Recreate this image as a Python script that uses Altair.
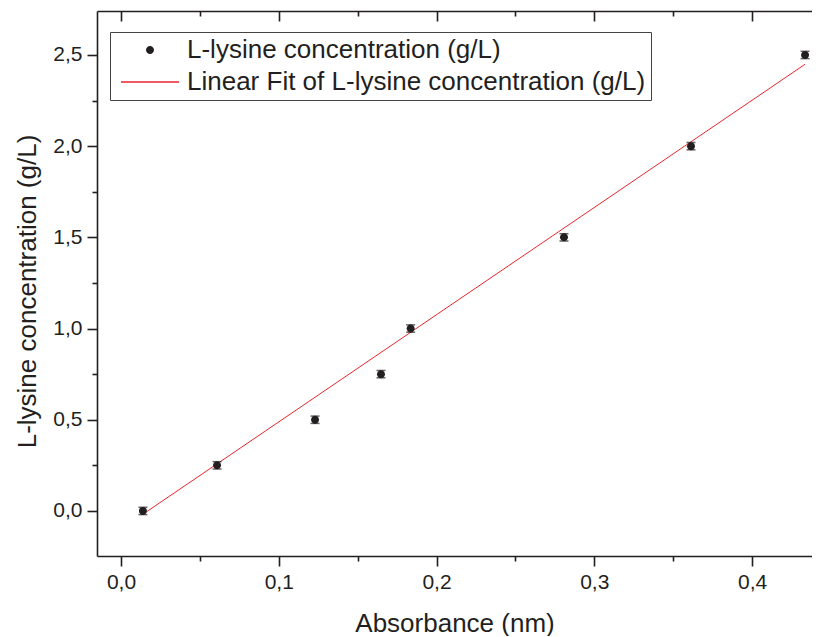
import altair as alt
import pandas as pd

# ---- data ----
absorbance = [0.0139, 0.0609, 0.123, 0.1648, 0.1836, 0.2808, 0.3613, 0.4336]
concentration = [0.0, 0.25, 0.5, 0.75, 1.0, 1.5, 2.0, 2.5]
error = [0.02, 0.02, 0.02, 0.02, 0.02, 0.02, 0.02, 0.02]
fit_x = [0.0139, 0.4336]
fit_y = [-0.018, 2.449]
series = ["L-lysine concentration (g/L)", "Linear Fit of L-lysine concentration (g/L)"]
x_major = [0.0, 0.1, 0.2, 0.3, 0.4]
x_minor = [0.05, 0.15, 0.25, 0.35]
y_major = [0.0, 0.5, 1.0, 1.5, 2.0, 2.5]
y_minor = [0.25, 0.75, 1.25, 1.75, 2.25]

FONT = "Liberation Sans"
INK = "#231f20"
RED = "#e8262c"
# symbol paths (1 unit = 5 px at size 100)
CIRCLE = "M -0.8 0 A 0.8 0.8 0 1 0 0.8 0 A 0.8 0.8 0 1 0 -0.8 0 Z"
LINE = "M -5.8 -0.14 L 5.8 -0.14 L 5.8 0.14 L -5.8 0.14 Z"

pts = pd.DataFrame({"absorbance": absorbance, "concentration": concentration,
                    "err": error, "series": series[0]})
fit = pd.DataFrame({"x": fit_x, "y": fit_y})

xs = alt.Scale(domain=[-0.0152, 0.438], nice=False, zero=False)
ys = alt.Scale(domain=[-0.247, 2.741], nice=False, zero=False)

comma = "replace(format(datum.value, '.1f'), '.', ',')"

legend = alt.Legend(title=None, orient="none", legendX=13, legendY=21, padding=5,
                    strokeColor="#444", fillColor="white", labelFontSize=26,
                    labelFont=FONT, labelColor=INK, symbolSize=100, symbolOffset=22,
                    labelOffset=24, symbolStrokeWidth=0, rowPadding=6, labelLimit=1000)

points = alt.Chart(pts).mark_point(filled=True, opacity=1, size=100).encode(
    x=alt.X("absorbance:Q", scale=xs,
            axis=alt.Axis(orient="bottom", values=x_major, labelExpr=comma, tickSize=10,
                          labelPadding=5, labelFontSize=21, title="Absorbance (nm)",
                          titleFontSize=26, titleFontWeight="normal", titleBaseline="alphabetic",
                          titleY=75)),
    y=alt.Y("concentration:Q", scale=ys,
            axis=alt.Axis(orient="left", values=y_major, labelExpr=comma, tickSize=10,
                          labelPadding=5, labelFontSize=21,
                          title="L-lysine concentration (g/L)", titleFontSize=26,
                          titleFontWeight="normal", titleBaseline="alphabetic",
                          titleX=-62, titleY=280)),
    color=alt.Color("series:N", scale=alt.Scale(domain=series, range=[INK, RED]), legend=legend),
    shape=alt.Shape("series:N", scale=alt.Scale(domain=series, range=[CIRCLE, LINE]), legend=legend),
)

bars = alt.Chart(pts).transform_calculate(
    lo="datum.concentration - datum.err", hi="datum.concentration + datum.err"
).mark_errorbar(ticks={"size": 9, "color": INK}, color=INK, thickness=1.5).encode(
    x=alt.X("absorbance:Q", scale=xs, axis=None),
    y=alt.Y("lo:Q", scale=ys, axis=None),
    y2="hi:Q",
)

line = alt.Chart(fit).mark_line(color=RED, strokeWidth=1).encode(
    x=alt.X("x:Q", scale=xs, axis=None),
    y=alt.Y("y:Q", scale=ys, axis=None),
)

minor = alt.Chart(pts).mark_point(opacity=0).encode(
    x=alt.X("absorbance:Q", scale=xs,
            axis=alt.Axis(orient="bottom", values=x_minor, tickSize=5, labels=False,
                          domain=False, title=None)),
    y=alt.Y("concentration:Q", scale=ys,
            axis=alt.Axis(orient="left", values=y_minor, tickSize=5, labels=False,
                          domain=False, title=None)),
)

top_line = alt.Chart(pts).mark_point(opacity=0).encode(
    x=alt.X("absorbance:Q", scale=xs,
            axis=alt.Axis(orient="top", ticks=False, labels=False, domain=True, title=None)),
    y=alt.Y("concentration:Q", scale=ys, axis=None),
)

top_major = alt.Chart(pts).mark_point(opacity=0).encode(
    x=alt.X("absorbance:Q", scale=xs,
            axis=alt.Axis(orient="top", values=x_major, offset=-10, tickSize=10,
                          labels=False, domain=False, title=None)),
    y=alt.Y("concentration:Q", scale=ys, axis=None),
)

top_minor = alt.Chart(pts).mark_point(opacity=0).encode(
    x=alt.X("absorbance:Q", scale=xs,
            axis=alt.Axis(orient="top", values=x_minor, offset=-5, tickSize=5,
                          labels=False, domain=False, title=None)),
    y=alt.Y("concentration:Q", scale=ys, axis=None),
)

chart = alt.layer(line, bars, points, minor, top_line, top_major, top_minor).resolve_scale(
    x="shared", y="shared"
).resolve_axis(
    x="independent", y="independent"
).properties(
    width=715, height=545,
    autosize=alt.AutoSizeParams(type="none"),
    padding={"left": 89, "top": 3, "right": 0, "bottom": 80},
).configure_view(stroke=None).configure_axis(
    grid=False, domainColor=INK, domainWidth=1.6, tickColor=INK, tickWidth=1.6,
    labelColor=INK, titleColor=INK, labelFont=FONT, titleFont=FONT,
)

chart.save("out.html", embed_options={"renderer": "svg", "actions": False})
